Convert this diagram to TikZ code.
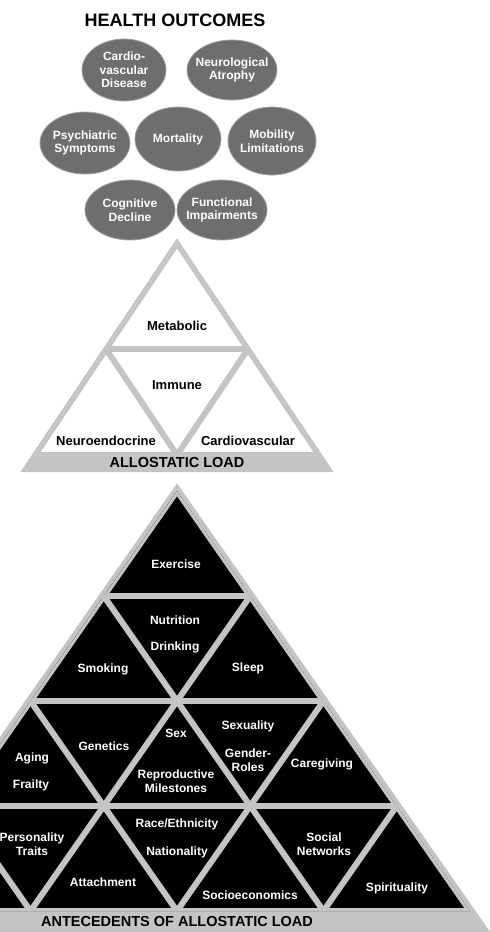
\documentclass[tikz,border=0pt]{standalone}
\usepackage{fontspec}
\setmainfont{Liberation Sans}
\usetikzlibrary{shapes.geometric}
\definecolor{rim}{RGB}{196,196,196}
\definecolor{blob}{RGB}{110,110,110}

\begin{document}
\begin{tikzpicture}[
  x=1pt, y=-1pt,
  font=\bfseries\fontsize{12}{13.5}\selectfont,
  outc/.style={ellipse, fill=blob, draw=blob!65!white, line width=0.8pt, inner sep=0pt},
  lbl/.style={align=center, inner sep=1pt},
  onwhite/.style={lbl, text=black, font=\bfseries\fontsize{13}{15}\selectfont},
  onblack/.style={lbl, text=white},
  ttl/.style={lbl, font=\bfseries\fontsize{14.5}{16}\selectfont},
  seam/.style={rim, line width=6pt, line join=miter},
]
\useasboundingbox (0,0) rectangle (490,932);
\clip (0,0) rectangle (490,932);

% ---- health outcomes ------------------------------------------------------
\node[ttl, font=\bfseries\fontsize{18}{20}\selectfont] (hout) at (175,20) {HEALTH OUTCOMES};

\foreach \nm/\cx/\cy/\w/\h/\txt in {
    cvd/124/70/84/62/{Cardio-\\vascular\\Disease},
    neur/232/70/90/60/{Neurological\\Atrophy},
    psy/85/143/90/62/{Psychiatric\\Symptoms},
    mort/178/139/86/64/{Mortality},
    mob/272/141/88/68/{Mobility\\Limitations},
    cog/130/210/90/60/{Cognitive\\Decline},
    func/222/210/90/60/{Functional\\Impairments}} {
  \node[outc, minimum width=\w pt, minimum height=\h pt] (\nm) at (\cx,\cy) {};
  \node[onblack] (\nm-t) at (\nm) {\txt};
}

% ---- allostatic load ------------------------------------------------------
\fill[rim] (177,238.3) -- (333.6,472) -- (20.4,472) -- cycle;
\begin{scope}
  \clip (177,243) -- (319,455) -- (35,455) -- cycle;
  \fill[white] (177,243) -- (319,455) -- (35,455) -- cycle;
  \draw[seam] (177,243) -- (319,455) -- (35,455) -- cycle;
  \draw[seam] (0,349) -- (360,349);
  \draw[seam] (106,349) -- (177,455);
  \draw[seam] (248,349) -- (177,455);
\end{scope}

\node[onwhite] (meta) at (177,326) {Metabolic};
\node[onwhite] (immu) at (177,385) {Immune};
\node[onwhite] (neuro) at (106,441) {Neuroendocrine};
\node[onwhite] (cardio) at (248,441) {Cardiovascular};
\node[ttl] (aload) at (177,463) {ALLOSTATIC LOAD};

% ---- antecedents ----------------------------------------------------------
% lattice: apex (177,491), row height 105, half width 73.25
\fill[rim] (177,483.3) -- (490.2,932) -- (-136.2,932) -- cycle;
\begin{scope}
  \clip (177,491) -- (470,911) -- (-116,911) -- cycle;
  \fill[black] (177,491) -- (470,911) -- (-116,911) -- cycle;
  \draw[seam] (177,491) -- (470,911) -- (-116,911) -- cycle;
  \foreach \r in {1,2,3} {
    \draw[seam] (-200,{491+\r*105}) -- (600,{491+\r*105});
    \draw[seam] ({177-\r*73.25},{491+\r*105}) -- ({177+(4-2*\r)*73.25},911);
    \draw[seam] ({177+\r*73.25},{491+\r*105}) -- ({177-(4-2*\r)*73.25},911);
  }
\end{scope}

\foreach \nm/\cx/\cy/\txt in {
    exer/176/564/{Exercise},
    nutr/175/620/{Nutrition},
    drink/175/647/{Drinking},
    smok/103/669/{Smoking},
    sleep/248/668/{Sleep},
    aging/32/758/{Aging},
    frail/31/785/{Frailty},
    gene/104/746/{Genetics},
    sex/176/733/{Sex},
    repro/176/781/{Reproductive\\Milestones},
    sexu/248/726/{Sexuality},
    gend/248/760/{Gender-\\Roles},
    care/322/764/{Caregiving},
    pers/32/844/{Personality\\Traits},
    attach/103/882/{Attachment},
    race/177/824/{Race/Ethnicity},
    nation/177/852/{Nationality},
    socio/250/895/{Socioeconomics},
    socnet/324/844/{Social\\Networks},
    spirit/397/888/{Spirituality}} {
  \node[onblack] (\nm) at (\cx,\cy) {\txt};
}

\node[ttl] (antec) at (177,921) {ANTECEDENTS OF ALLOSTATIC LOAD};

\end{tikzpicture}
\end{document}
